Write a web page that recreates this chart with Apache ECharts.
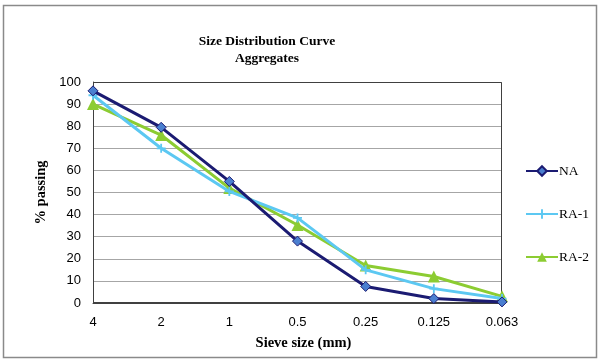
<!DOCTYPE html>
<html><head><meta charset="utf-8">
<script src="https://cdn.jsdelivr.net/npm/echarts@6/dist/echarts.min.js"></script>
<style>html,body{margin:0;padding:0;background:#fff}#c{width:600px;height:363px}</style>
</head><body><div id="c"></div>
<script>
const categories = ['4','2','1','0.5','0.25','0.125','0.063'];
const NA   = [96, 79.5, 55, 28, 7.5, 2, 0.5];
const RA1  = [94, 70, 50.5, 38.5, 15, 6.5, 2];
const RA2  = [90, 76, 52, 35.3, 17, 12, 3];
const yTicks = {min: 0, max: 100, interval: 10};

const chart = echarts.init(document.getElementById('c'));
const plus = 'path://M4,0 L6,0 L6,4 L10,4 L10,6 L6,6 L6,10 L4,10 L4,6 L0,6 L0,4 L4,4 Z';
chart.setOption({
  animation: false,
  backgroundColor: '#fff',
  graphic: [
    {type:'rect', shape:{x:3.5,y:5.5,width:593,height:352}, style:{fill:'none', stroke:'#8a8a8a', lineWidth:1.5}, silent:true, z:-1},
    {type:'rect', shape:{x:93.5,y:82.5,width:408,height:220}, style:{fill:'none', stroke:'#404040', lineWidth:1}, silent:true, z:1}
  ],
  title: {
    text: 'Size Distribution Curve\nAggregates',
    left: 262, top: 28, textAlign: 'center',
    textStyle: {fontFamily: 'Liberation Serif', fontWeight: 'bold', fontSize: 13.5, lineHeight: 17, color: '#000'}
  },
  legend: {
    orient: 'vertical', left: 520, top: 159, itemGap: 29, itemWidth: 32, itemHeight: 12,
    textStyle: {fontFamily: 'Liberation Serif', fontSize: 13.5, color: '#000', padding: [0,0,0,-4]},
    data: ['NA','RA-1','RA-2']
  },
  grid: {left: 93, top: 82, width: 409, height: 221, containLabel: false},
  xAxis: {
    type: 'category', data: categories, boundaryGap: false,
    name: 'Sieve size (mm)', nameLocation: 'middle', nameGap: 33,
    nameTextStyle: {fontFamily: 'Liberation Serif', fontWeight: 'bold', fontSize: 14.5, color: '#000', padding: [0,0,0,12]},
    axisLine: {show: true, lineStyle: {color: '#404040', width: 1}},
    axisTick: {show: false},
    axisLabel: {fontFamily: 'Liberation Sans', fontSize: 13, color: '#000', margin: 13}
  },
  yAxis: {
    type: 'value', min: yTicks.min, max: yTicks.max, interval: yTicks.interval,
    name: '% passing', nameLocation: 'middle', nameGap: 44, nameRotate: 90,
    nameTextStyle: {fontFamily: 'Liberation Serif', fontWeight: 'bold', fontSize: 14.5, color: '#000'},
    axisLine: {show: true, lineStyle: {color: '#404040', width: 1}},
    axisTick: {show: false},
    axisLabel: {fontFamily: 'Liberation Sans', fontSize: 13, color: '#000', margin: 12},
    splitLine: {show: true, lineStyle: {color: '#a6a6a6', width: 1}}
  },
  series: [
    {name: 'NA', type: 'line', data: NA, symbol: 'diamond', symbolSize: 10,
     lineStyle: {color: '#1b1b72', width: 3}, itemStyle: {color: '#4a7fd0', borderColor: '#1b1b72', borderWidth: 1}, z: 4},
    {name: 'RA-1', type: 'line', data: RA1, symbol: plus, symbolSize: 9,
     lineStyle: {color: '#5cc8f2', width: 3}, itemStyle: {color: '#5cc8f2'}, z: 3},
    {name: 'RA-2', type: 'line', data: RA2, symbol: 'triangle', symbolSize: 12,
     lineStyle: {color: '#8ccc32', width: 3}, itemStyle: {color: '#8ccc32'}, z: 2}
  ]
});
</script></body></html>
